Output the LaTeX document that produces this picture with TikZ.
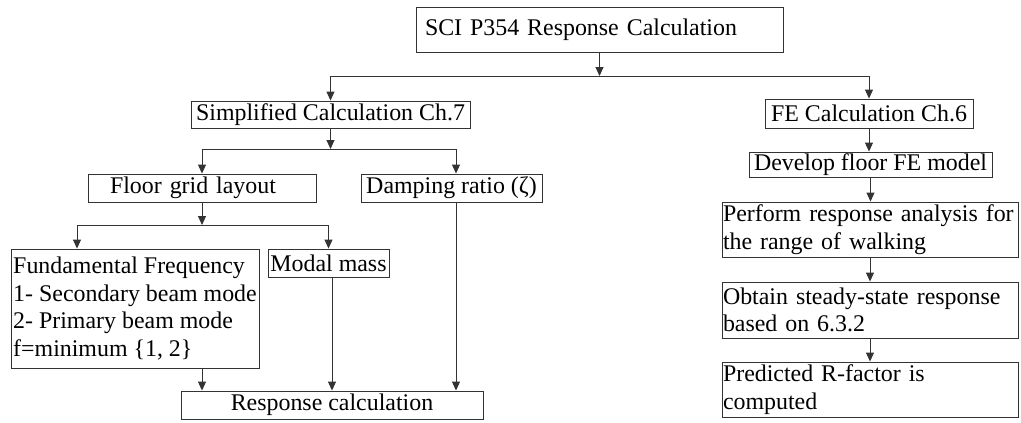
\documentclass[tikz,border=0pt]{standalone}
\usepackage{fontspec}
\setmainfont{Liberation Serif}
\usetikzlibrary{arrows.meta,calc}
\begin{document}
\begin{tikzpicture}[x=1pt,y=-1pt,
  box/.style={draw=black!80, line width=0.9pt, rectangle, inner ysep=0pt, font=\fontsize{23.9}{27.5}\selectfont},
  cbox/.style={box, align=center, inner xsep=0pt},
  lbox/.style={box, align=left},
  arr/.style={draw=black!80, line width=0.9pt, -{Triangle[length=9pt,width=8pt]}},
  ln/.style={draw=black!80, line width=0.9pt}]
\useasboundingbox (0,0) rectangle (1021,423);
% boxes
\node[lbox, inner xsep=9pt, text width=349pt, minimum height=45pt] (top) at (599.5,29.5) {SCI P354 Response Calculation};
\node[cbox, minimum width=279pt, minimum height=27pt] (simp) at (330.5,114.5) {Simplified Calculation Ch.7};
\node[cbox, minimum width=208pt, minimum height=29pt] (fe) at (869,113.5) {FE Calculation Ch.6};
\node[lbox, inner xsep=22pt, text width=184pt, minimum height=28pt] (floor) at (202,188) {Floor grid layout};
\node[cbox, minimum width=181pt, minimum height=28pt] (damp) at (451.5,188) {Damping ratio (ζ)};
\node[cbox, minimum width=243pt, minimum height=25pt] (develop) at (870.5,164.5) {Develop floor FE model};
\node[lbox, inner xsep=1pt, text width=294pt, minimum height=55pt] (perform) at (870,229.5) {\mbox{Perform response analysis for}\\the range of walking};
\node[lbox, inner xsep=1pt, text width=294pt, minimum height=56pt] (obtain) at (870,310) {\mbox{Obtain steady-state response}\\based on 6.3.2};
\node[lbox, inner xsep=1pt, text width=294pt, minimum height=55pt] (pred) at (870,389.5) {Predicted R-factor is\\computed};
\node[lbox, inner xsep=0.5pt, minimum width=248pt, minimum height=119pt] (fund) at (135,308.5) {Fundamental Frequency\\1- Secondary beam mode\\2- Primary beam mode\\f=minimum \{1, 2\}};
\node[cbox, minimum width=121pt, minimum height=28pt] (modal) at (328.5,263) {Modal mass};
\node[cbox, minimum width=302pt, minimum height=28pt] (resp) at (332,405) {Response calculation};
% junctions
\coordinate (j1) at (599.5,76);
\coordinate (j2) at (330.5,149);
\coordinate (j3) at (202,225);
\coordinate (dn) at ([xshift=4.5pt]damp.north);
\coordinate (ds) at ([xshift=4.5pt]damp.south);
\coordinate (fn) at ([xshift=-58pt]fund.north);
\coordinate (fs) at ([xshift=67pt]fund.south);
\coordinate (ms) at ([xshift=3.5pt]modal.south);
% connectors
\draw[arr] (top.south) -- (j1);
\draw[ln] (j1 -| simp.north) -- (j1 -| fe.north);
\draw[arr] (j1 -| simp.north) -- (simp.north);
\draw[arr] (j1 -| fe.north) -- (fe.north);
\draw[arr] (simp.south) -- (j2);
\draw[ln] (j2 -| floor.north) -- (j2 -| dn);
\draw[arr] (j2 -| floor.north) -- (floor.north);
\draw[arr] (j2 -| dn) -- (dn);
\draw[arr] (floor.south) -- (j3);
\draw[ln] (j3 -| fn) -- (j3 -| modal.north);
\draw[arr] (j3 -| fn) -- (fn);
\draw[arr] (j3 -| modal.north) -- (modal.north);
\draw[arr] (fs) -- (fs |- resp.north);
\draw[arr] (ms) -- (ms |- resp.north);
\draw[arr] (ds) -- (ds |- resp.north);
\draw[arr] (fe.south) -- (fe.south |- develop.north);
\draw[arr] (develop.south) -- (develop.south |- perform.north);
\draw[arr] (perform.south) -- (perform.south |- obtain.north);
\draw[arr] (obtain.south) -- (obtain.south |- pred.north);
\end{tikzpicture}
\end{document}
